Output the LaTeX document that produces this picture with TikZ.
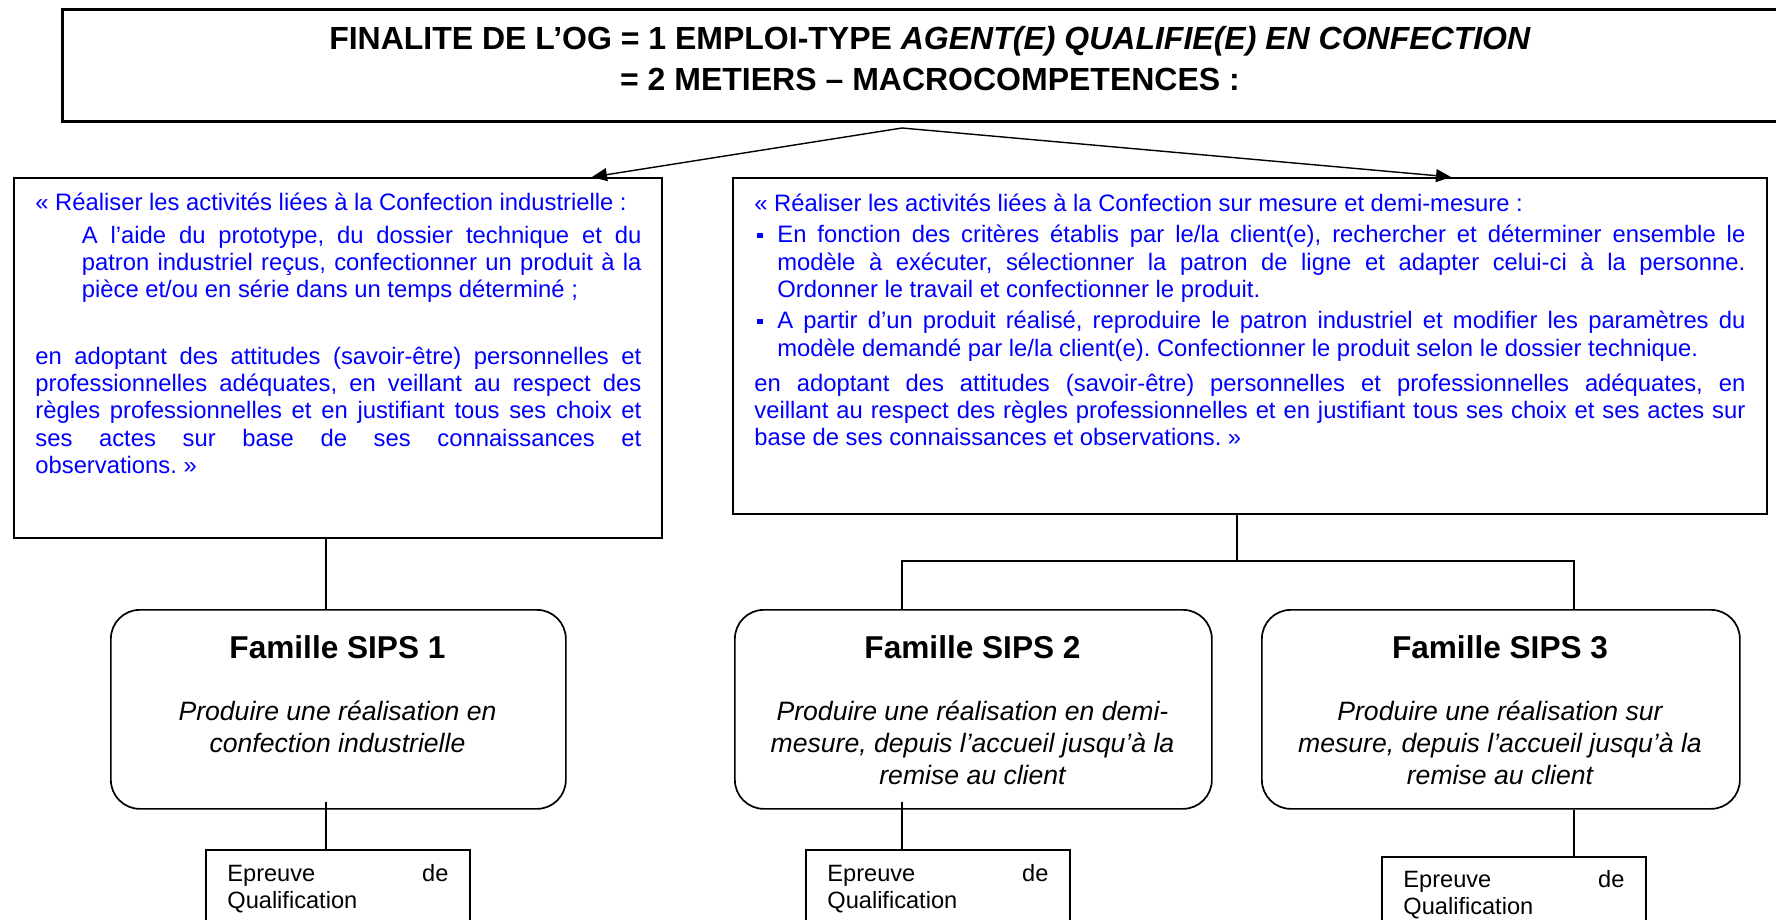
\documentclass[tikz,border=0pt]{standalone}
\usepackage{fontspec}
\setmainfont{Liberation Sans}
\usetikzlibrary{arrows.meta,calc}
\frenchspacing
\newcommand\JLine[2][0pt]{\hspace*{#1}\makebox[\dimexpr\hsize-#1\relax][s]{#2}\par}
\newcommand\LLine[2][0pt]{\hspace*{#1}#2\par}
\newcommand\BSq{\rule[2.3pt]{2.6pt}{2.6pt}}
\newcommand\BLine[1]{\makebox[11.5pt][l]{\hspace{1.5pt}\BSq}\makebox[\dimexpr\hsize-11.5pt\relax][s]{#1}\par}
\newcommand\FreeSpaces{\spaceskip=0pt\relax\xspaceskip=0pt\relax}
\begin{document}
\begin{tikzpicture}[x=0.5pt,y=-0.5pt,
  >={Triangle[length=7.5pt,width=6.5pt]},
  box/.style={draw, rectangle, line width=0.85pt, inner sep=0pt, anchor=north west},
  sips/.style={box, rounded corners=14.5pt, minimum height=99.5pt},
  epbox/.style={box, minimum width=132pt, minimum height=50pt},
  conn/.style={line width=0.7pt},
  bluetext/.style={inner sep=0pt, text=blue, anchor=base west, align=justify,
    font=\fontsize{11.9}{13.65}\selectfont},
  titletext/.style={inner sep=0pt, align=center, font=\fontsize{16}{20.5}\selectfont\bfseries},
  sipstitle/.style={inner sep=0pt, font=\fontsize{15.8}{19}\selectfont\bfseries},
  sipsdesc/.style={inner sep=0pt, align=center, font=\fontsize{13.3}{16}\selectfont\itshape},
  eptext/.style={inner sep=0pt, anchor=west, align=left, font=\fontsize{11.8}{13.5}\selectfont}]
\useasboundingbox (0,0) rectangle (1776,920);

% top box
\node[box, line width=1.3pt, minimum width=869.5pt, minimum height=55.75pt] (top) at (61,8.5) {};
\node[titletext] (tt) at (930,58.5) {FINALITE DE L’OG = 1 EMPLOI-TYPE \textit{AGENT(E) QUALIFIE(E) EN CONFECTION}\\= 2 METIERS – MACROCOMPETENCES :};

% left box
\node[box, minimum width=324pt, minimum height=180pt] (lb) at (13,177) {};
\node[bluetext, text width=303pt] (lbt) at (35,210) {\FreeSpaces
\LLine{« Réaliser les activités liées à la Confection industrielle :}
\vspace{2.85pt}
\JLine[23.25pt]{A l’aide du prototype, du dossier technique et du}
\JLine[23.25pt]{patron industriel reçus, confectionner un produit à la}
\LLine[23.25pt]{pièce et/ou en série dans un temps déterminé ;}
\vspace{19.7pt}
\JLine{en adoptant des attitudes (savoir-être) personnelles et}
\JLine{professionnelles adéquates, en veillant au respect des}
\JLine{règles professionnelles et en justifiant tous ses choix et}
\JLine{ses actes sur base de ses connaissances et}
\LLine{observations. »}};

% right box
\node[box, minimum width=517pt, minimum height=168pt] (rb) at (732,177) {};
\node[bluetext, text width=495.5pt] (rbt) at (754,211) {\FreeSpaces
\LLine{« Réaliser les activités liées à la Confection sur mesure et demi-mesure :}
\vspace{2.2pt}
\BLine{En fonction des critères établis par le/la client(e), rechercher et déterminer ensemble le}
\JLine[11.5pt]{modèle à exécuter, sélectionner la patron de ligne et adapter celui-ci à la personne.}
\LLine[11.5pt]{Ordonner le travail et confectionner le produit.}
\vspace{2.1pt}
\BLine{A partir d’un produit réalisé, reproduire le patron industriel et modifier les paramètres du}
\LLine[11.5pt]{modèle demandé par le/la client(e). Confectionner le produit selon le dossier technique.}
\vspace{3.85pt}
\JLine{en adoptant des attitudes (savoir-être) personnelles et professionnelles adéquates, en}
\JLine{veillant au respect des règles professionnelles et en justifiant tous ses choix et ses actes sur}
\LLine{base de ses connaissances et observations. »}};

% SIPS boxes
\node[sips, minimum width=227.5pt] (s1) at (110,609) {};
\node[sips, minimum width=238.5pt] (s2) at (734,609) {};
\node[sips, minimum width=239pt] (s3) at (1261,609) {};
\node[sipstitle] (s1h) at (337.5,647) {Famille SIPS 1};
\node[sipstitle] (s2h) at (972.5,647) {Famille SIPS 2};
\node[sipstitle] (s3h) at (1500,647) {Famille SIPS 3};
\node[sipsdesc] (s1d) at (337.5,727) {Produire une réalisation en\\confection industrielle};
\node[sipsdesc] (s2d) at (972.5,743) {Produire une réalisation en demi-\\mesure, depuis l’accueil jusqu’à la\\remise au client};
\node[sipsdesc] (s3d) at (1500,743) {Produire une réalisation sur\\mesure, depuis l’accueil jusqu’à la\\remise au client};

% Epreuve boxes
\node[epbox] (e1) at (205,849) {};
\node[epbox] (e2) at (805,849) {};
\node[epbox] (e3) at (1381,856) {};
\node[eptext] (e1t) at (227,888.5) {\makebox[110.5pt][s]{Epreuve de}\\Qualification};
\node[eptext] (e2t) at (827,888.5) {\makebox[110.5pt][s]{Epreuve de}\\Qualification};
\node[eptext] (e3t) at (1403,895) {\makebox[110.5pt][s]{Epreuve de}\\Qualification};

% connectors
\coordinate (apex) at (902,128);
\coordinate (xa) at (592,0);
\coordinate (xb) at (1451,0);
\coordinate (x1) at (326,0);
\coordinate (x2) at (902,0);
\coordinate (x3) at (1574,0);
\coordinate (xr) at (1237,0);
\coordinate (yb) at (0,561);
\draw[conn, <->] (lb.north -| xa) -- (apex) -- (rb.north -| xb);
\draw[conn] (lb.south -| x1) -- (s1.north -| x1);
\draw[conn] (rb.south -| xr) -- (yb -| xr);
\draw[conn] (s2.north -| x2) -- (yb -| x2) -- (yb -| x3) -- (s3.north -| x3);
\draw[conn] ($(s1.south -| x1)+(0,-8)$) -- (e1.north -| x1);
\draw[conn] ($(s2.south -| x2)+(0,-8)$) -- (e2.north -| x2);
\draw[conn] (s3.south -| x3) -- (e3.north -| x3);
\end{tikzpicture}
\end{document}
